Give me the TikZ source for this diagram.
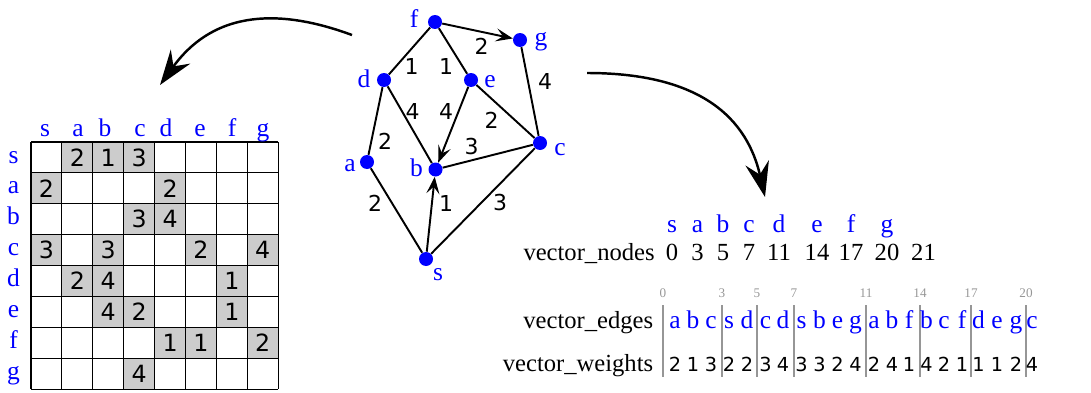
\documentclass[tikz,border=0pt]{standalone}
\usepackage{fontspec}
\setmainfont{Liberation Serif}
\newfontfamily\dvsans{DejaVu Sans}
\usetikzlibrary{arrows.meta}
\definecolor{VtxBlue}{RGB}{0,0,255}
\definecolor{CellGray}{RGB}{204,204,204}
\definecolor{SepGray}{RGB}{150,150,150}
\tikzset{
  vtx/.style={circle, fill=VtxBlue, minimum size=0.28cm, inner sep=0pt},
  vname/.style={text=VtxBlue, font=\fontsize{14.5}{16}\selectfont, inner sep=0pt, anchor=base},
  edge/.style={line width=1.1pt, draw=black},
  darc/.style={edge, -{Stealth[length=3.4mm,width=2.6mm,inset=1.4mm]}},
  wt/.style={font=\dvsans\fontsize{12.5}{14}\selectfont, inner sep=0pt},
  bigarr/.style={line width=1.4pt, -{Stealth[length=7mm,width=4.8mm,inset=2.4mm]}},
  cellnum/.style={font=\dvsans\fontsize{13.5}{15}\selectfont, inner sep=0pt},
  gridline/.style={draw=black, line width=0.6pt},
  vecname/.style={font=\fontsize{14}{16}\selectfont, anchor=base east, inner sep=0pt},
  vecnum/.style={font=\fontsize{14}{16}\selectfont, anchor=base, inner sep=0pt},
  vecwt/.style={font=\dvsans\fontsize{11}{13}\selectfont, anchor=base, inner sep=0pt},
  idx/.style={text=SepGray, font=\fontsize{7.5}{8}\selectfont, anchor=base, inner sep=0pt},
  sep/.style={draw=SepGray, line width=0.6pt}
}

\begin{document}
\begin{tikzpicture}[x=0.02cm, y=-0.02cm]
\useasboundingbox (0,0) rectangle (1091,392);

% graph
\node[vtx] (f) at (435,22) {};
\node[vtx] (g) at (520,40) {};
\node[vtx] (d) at (384,80) {};
\node[vtx] (e) at (471,80) {};
\node[vtx] (a) at (367,162) {};
\node[vtx] (b) at (435.5,169.5) {};
\node[vtx] (c) at (540,143) {};
\node[vtx] (s) at (426,259) {};
\node[vname] (lf) at (414,28) {f};
\node[vname] (lg) at (541,45) {g};
\node[vname] (ld) at (364,87) {d};
\node[vname] (le) at (490,87) {e};
\node[vname] (la) at (350,171.5) {a};
\node[vname] (lb) at (416.5,176.5) {b};
\node[vname] (lc) at (560,155) {c};
\node[vname] (ls) at (438,280) {s};

\draw[edge] (f) -- (d) node[wt] at (411.5,66.5) {1};
\draw[edge] (f) -- (e) node[wt] at (446,66) {1};
\draw[darc] (f) -- (g) node[wt] at (481.5,46.5) {2};
\draw[edge] (g) -- (c) node[wt] at (545,81.5) {4};
\draw[edge] (d) -- (b) node[wt] at (412.5,111) {4};
\draw[darc] (e) -- (b) node[wt] at (446,111) {4};
\draw[edge] (e) -- (c) node[wt] at (491.5,120) {2};
\draw[edge] (d) -- (a) node[wt] at (385,141.5) {2};
\draw[edge] (c) -- (b) node[wt] at (471.5,146.5) {3};
\draw[edge] (s) -- (a) node[wt] at (375,203) {2};
\draw[darc] (s) -- (b) node[wt] at (446,203) {1};
\draw[edge] (s) -- (c) node[wt] at (500,203) {3};

% curved arrows
\coordinate (lstart) at (352,35);
\coordinate (lend) at (160,85);
\coordinate (rstart) at (587,73);
\coordinate (rend) at (765,197);
\draw[bigarr] (lstart) .. controls (295,14) and (220,2) .. (lend);
\draw[bigarr] (rstart) .. controls (690,73) and (745,110) .. (rend);

% adjacency matrix
\foreach \row/\col/\w in {1/2/2, 1/3/1, 1/4/3, 2/1/2, 2/5/2, 3/4/3, 3/5/4,
    4/1/3, 4/3/3, 4/6/2, 4/8/4, 5/2/2, 5/3/4, 5/7/1, 6/3/4, 6/4/2, 6/7/1,
    7/5/1, 7/6/1, 7/8/2, 8/4/4} {
  \fill[CellGray] ({31+30.9*(\col-1)},{142+30.9*(\row-1)}) rectangle ++(30.9,30.9);
  \node[cellnum] (m\row\col) at ({31+30.9*(\col-0.5)},{142+30.9*(\row-0.5)}) {\w};
}
\foreach \k in {0,...,8} {
  \draw[gridline] ({31+30.9*\k},142) -- ++(0,247.2);
  \draw[gridline] (31,{142+30.9*\k}) -- ++(247.2,0);
}
\foreach \x/\v in {45/s, 78/a, 105/b, 140/c, 166/d, 200/e, 232/f, 263/g}
  \node[vname] (col\v) at (\x,136) {\v};
\foreach \v [count=\k] in {s,a,b,c,d,e,f,g}
  \node[vname] (row\v) at (13.5,{163+30.9*(\k-1)}) {\v};

% vector_nodes
\node[vecname] (vnodes) at (655,260) {vector\_nodes};
\foreach \x/\v/\n in {672/s/0, 697.5/a/3, 723/b/5, 749/c/7, 779/d/11,
    817/e/14, 851/f/17, 887/g/20} {
  \node[vname] (n\v) at (\x,232) {\v};
  \node[vecnum] (num\v) at (\x,260) {\n};
}
\node[vecnum] (numend) at (923.5,260) {21};

% vector_edges / vector_weights
\node[vecname] (vedges) at (653.5,328) {vector\_edges};
\node[vecname] (vweights) at (653.5,371) {vector\_weights};
\foreach \x/\i in {663/0, 722/3, 757/5, 794/7, 866/11, 920/14, 971/17, 1026/20} {
  \draw[sep] (\x,305) -- (\x,377);
  \node[idx] (i\i) at (\x,297) {\i};
}
\foreach \x/\v/\w [count=\k] in {675/a/2, 693/b/1, 711/c/3, 729/s/2, 747/d/2,
    765.5/c/3, 783/d/4, 801.5/s/3, 819.5/b/3, 837.5/e/2, 855.5/g/4,
    874/a/2, 892/b/4, 909/f/1, 926.5/b/4, 944/c/2, 962/f/1,
    978.5/d/1, 997/e/1, 1016/g/2, 1032/c/4} {
  \node[vname] (ed\k) at (\x,328) {\v};
  \node[vecwt] (wt\k) at (\x,371.5) {\w};
}
\end{tikzpicture}
\end{document}
